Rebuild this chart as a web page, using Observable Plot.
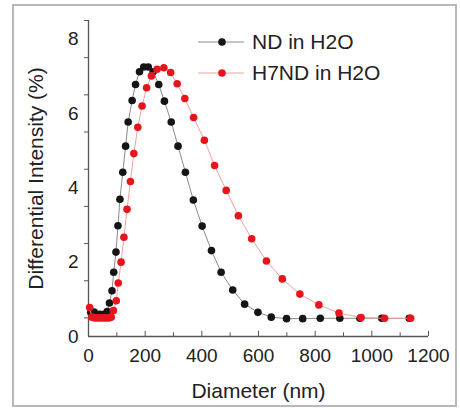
<!DOCTYPE html>
<html><head><meta charset="utf-8">
<script src="https://cdn.jsdelivr.net/npm/d3@7"></script>
<script src="https://cdn.jsdelivr.net/npm/@observablehq/plot@0.6"></script>
<style>
body{margin:0;background:#fff;font-family:"Liberation Sans",Arial,sans-serif;}
#wrap{position:relative;width:460px;height:410px;overflow:hidden}
#frame{position:absolute;left:12px;top:4px;width:441px;height:399px;border:2px solid #b8b8b8;pointer-events:none}
#legend{position:absolute;left:198px;top:26px;font-size:21px;color:#222;line-height:31px}
.row{display:flex;align-items:center;height:31px;white-space:nowrap}
.row svg{margin-right:8px}
</style></head><body>
<div id="wrap"><div id="chart"></div><div id="frame"></div><div id="legend"></div></div>
<script>
// ND in H2O (black)
const ndDiameter = [8, 20, 40, 55, 66, 74, 83, 89, 97, 104, 111, 121, 131, 140, 154, 166, 180, 195, 211, 228, 248, 268, 292, 316, 342, 370, 401, 434, 468, 509, 551, 598, 645, 699, 756, 818, 887, 958, 1035, 1132];
const ndIntensity = [0.65, 0.66, 0.6, 0.6, 0.67, 0.9, 1.23, 1.73, 2.27, 2.98, 3.69, 4.42, 5.12, 5.77, 6.35, 6.78, 7.12, 7.25, 7.25, 7.12, 6.78, 6.33, 5.77, 5.12, 4.42, 3.67, 2.97, 2.31, 1.73, 1.25, 0.87, 0.65, 0.52, 0.48, 0.48, 0.49, 0.49, 0.49, 0.49, 0.49];
// H7ND in H2O (red)
const h7Diameter = [4, 12, 22, 32, 42, 52, 62, 72, 80, 88, 98, 105, 115, 125, 136, 148, 160, 174, 189, 205, 222, 242, 266, 290, 313, 340, 371, 409, 445, 486, 529, 576, 628, 684, 746, 813, 884, 962, 1045, 1137];
const h7Intensity = [0.78, 0.52, 0.5, 0.5, 0.5, 0.5, 0.5, 0.5, 0.52, 0.7, 0.96, 1.44, 2.0, 2.67, 3.42, 4.17, 4.92, 5.63, 6.2, 6.69, 7.01, 7.19, 7.23, 7.1, 6.8, 6.4, 5.89, 5.28, 4.6, 3.93, 3.25, 2.63, 2.03, 1.55, 1.14, 0.85, 0.63, 0.51, 0.49, 0.49];

const xLabelTicks = [0, 200, 400, 600, 800, 1000, 1200];
const xAllTicks = [0, 100, 200, 300, 400, 500, 600, 700, 800, 900, 1000, 1100, 1200];
const yLabelTicks = [0, 2, 4, 6, 8];
const yMarkTicks = [0.5, 1.5, 2.5, 3.5, 4.5, 5.5, 6.5, 7.5, 8.5];

const seriesNames = ["ND in H2O", "H7ND in H2O"];
const lineColors = ["#8a8a8a", "#f2a0a0"];
const dotColors = ["#151515", "#e8141c"];

const nd = ndDiameter.map((d, i) => ({d, v: ndIntensity[i]}));
const h7 = h7Diameter.map((d, i) => ({d, v: h7Intensity[i]}));

const plain = d => String(d);

const chart = Plot.plot({
  width: 460, height: 410,
  marginLeft: 88, marginRight: 32, marginTop: 20, marginBottom: 74,
  x: {domain: [0, 1200]},
  y: {domain: [0, 8.5]},
  style: {fontFamily: "Liberation Sans, Arial, sans-serif", fontSize: "19px", color: "#222", background: "transparent", overflow: "visible"},
  marks: [
    Plot.axisX({ticks: xLabelTicks, tickSize: 0, tickPadding: 12, tickFormat: plain, label: null, fontSize: 19}),
    Plot.axisX({ticks: [], label: "Diameter (nm)", labelArrow: false, labelAnchor: "center", labelOffset: 61, fontSize: 21}),
    Plot.axisY({ticks: yLabelTicks, tickSize: 0, tickPadding: 10, tickFormat: plain, label: null, fontSize: 19}),
    Plot.axisY({ticks: [], label: "Differential Intensity (%)", labelArrow: false, labelAnchor: "center", labelOffset: 60, fontSize: 21}),
    Plot.axisY({ticks: yMarkTicks, tickSize: 4, tickFormat: () => "", label: null, stroke: "#555"}),
    Plot.ruleX(xAllTicks, {x: d => d, y1: 0, y2: d => (d % 200 === 0 ? 0.14 : 0.1), stroke: "#555"}),
    Plot.ruleX([0], {stroke: "#555", strokeWidth: 1.3}),
    Plot.ruleY([0], {stroke: "#555", strokeWidth: 1.3}),
    Plot.line(nd, {x: "d", y: "v", stroke: lineColors[0], strokeWidth: 1}),
    Plot.dot(nd, {x: "d", y: "v", r: 3.8, fill: dotColors[0], stroke: "none"}),
    Plot.line(h7, {x: "d", y: "v", stroke: lineColors[1], strokeWidth: 1}),
    Plot.dot(h7, {x: "d", y: "v", r: 3.8, fill: dotColors[1], stroke: "none"})
  ]
});
document.getElementById("chart").append(chart);

const legend = document.getElementById("legend");
seriesNames.forEach((name, i) => {
  const row = document.createElement("div");
  row.className = "row";
  row.innerHTML = `<svg width="46" height="12"><line x1="0" x2="46" y1="6" y2="6" stroke="${lineColors[i]}" stroke-width="1"/><circle cx="24" cy="6" r="3.8" fill="${dotColors[i]}"/></svg><span>${name}</span>`;
  legend.append(row);
});
</script>
</body></html>
